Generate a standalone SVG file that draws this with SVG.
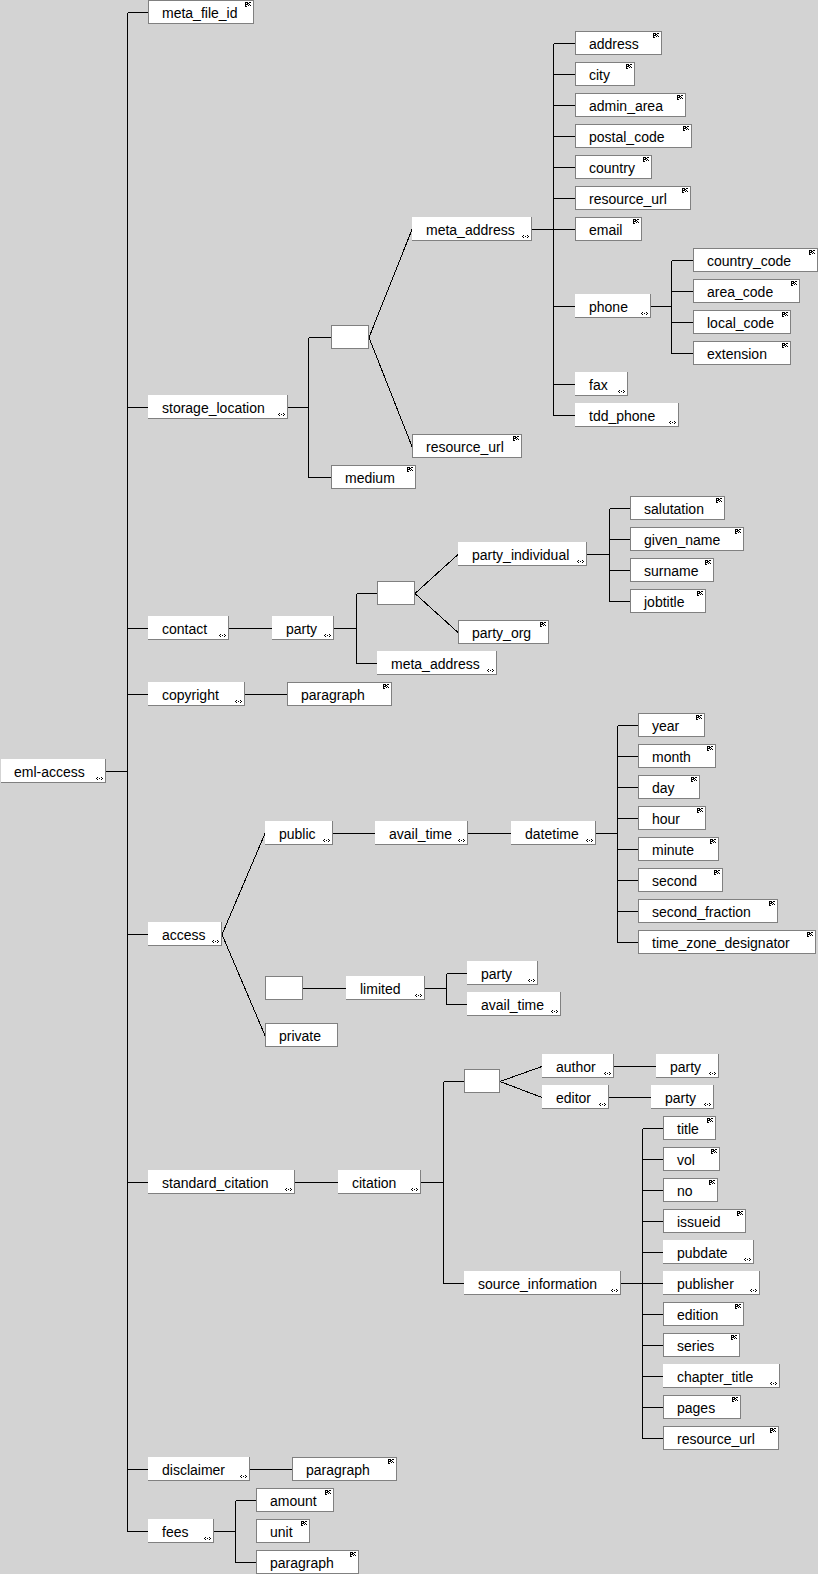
<svg xmlns="http://www.w3.org/2000/svg" xmlns:xlink="http://www.w3.org/1999/xlink" width="818" height="1574" viewBox="0 0 818 1574">
<style>
  .bg { fill: #d3d3d3; }
  .leaf rect, .box { fill: #ffffff; stroke: #808080; stroke-width: 1; shape-rendering: crispEdges; }
  .cx rect { fill: #ffffff; stroke: none; shape-rendering: crispEdges; }
  .cx path { fill: none; stroke: #808080; stroke-width: 1; shape-rendering: crispEdges; }
  text { font-family: "Liberation Sans", Arial, sans-serif; font-size: 14px; fill: #000000; }
  .ln path { fill: none; stroke: #000000; stroke-width: 1; shape-rendering: crispEdges; }
</style>
<defs>
  <!-- simple-content marker (top right of leaf boxes) -->
  <path id="dots" fill="#000" d="M0 0h3v1h-3zM4 0h2v1h-2zM0 1h1v1h-1zM2 1h2v1h-2zM0 2h3v1h-3zM4 2h1v1h-1zM0 3h1v1h-1zM3 3h1v1h-1zM5 3h1v1h-1zM0 4h2v1h-2z"/>
  <!-- complex-content marker (bottom right of expandable boxes) -->
  <path id="chev" fill="#000" d="M1 0h1v1h-1zM5 0h1v1h-1zM0 1h1v1h-1zM3 1h1v1h-1zM6 1h1v1h-1zM1 2h1v1h-1zM5 2h1v1h-1z"/>
</defs>
<rect class="bg" x="0" y="0" width="818" height="1574"/>

<g id="connectors" class="ln">
  <!-- root trunk -->
  <path d="M127.5 12.5V1531.5M106 771.5H127.5"/>
  <path d="M127.5 12.5H148M127.5 407.5H148M127.5 628.5H148M127.5 694.5H148M127.5 934.5H148M127.5 1182.5H148M127.5 1469.5H148M127.5 1531.5H148"/>
  <!-- storage_location -->
  <path d="M288 407.5H308.5M308.5 337.5V477.5M308.5 337.5H331M308.5 477.5H331"/>
  <path d="M369 337.5L412 229.5M369 337.5L412 446.5"/>
  <!-- meta_address -->
  <path d="M532 229.5H553.5M553.5 43.5V415.5M553.5 43.5H575M553.5 74.5H575M553.5 105.5H575M553.5 136.5H575M553.5 167.5H575M553.5 198.5H575M553.5 229.5H575M553.5 306.5H575M553.5 384.5H575M553.5 415.5H575"/>
  <!-- phone -->
  <path d="M651 306.5H671.5M671.5 260.5V353.5M671.5 260.5H693M671.5 291.5H693M671.5 322.5H693M671.5 353.5H693"/>
  <!-- contact / party -->
  <path d="M229 628.5H272M334 628.5H356.5M356.5 593.5V663.5M356.5 593.5H377M356.5 663.5H377"/>
  <path d="M415 593.5L458 554.5M415 593.5L458 632.5"/>
  <path d="M587 554.5H609.5M609.5 508.5V601.5M609.5 508.5H630M609.5 539.5H630M609.5 570.5H630M609.5 601.5H630"/>
  <!-- copyright -->
  <path d="M245 694.5H287"/>
  <!-- access -->
  <path d="M222 934.5L265 833.5M222 934.5L265 1035.5"/>
  <path d="M333 833.5H375M468 833.5H511M596 833.5H617.5M617.5 725.5V942.5"/>
  <path d="M617.5 725.5H638M617.5 756.5H638M617.5 787.5H638M617.5 818.5H638M617.5 849.5H638M617.5 880.5H638M617.5 911.5H638M617.5 942.5H638"/>
  <path d="M303 988.5H346M425 988.5H446.5M446.5 973.5V1004.5M446.5 973.5H467M446.5 1004.5H467"/>
  <!-- standard_citation -->
  <path d="M295 1182.5H338M421 1182.5H443.5M443.5 1081.5V1283.5M443.5 1081.5H464M443.5 1283.5H464"/>
  <path d="M500 1081.5L542 1066.5M500 1081.5L542 1097.5M614 1066.5H656M609 1097.5H651"/>
  <path d="M621 1283.5H642.5M642.5 1128.5V1438.5"/>
  <path d="M642.5 1128.5H663M642.5 1159.5H663M642.5 1190.5H663M642.5 1221.5H663M642.5 1252.5H663M642.5 1283.5H663M642.5 1314.5H663M642.5 1345.5H663M642.5 1376.5H663M642.5 1407.5H663M642.5 1438.5H663"/>
  <!-- disclaimer / fees -->
  <path d="M250 1469.5H292"/>
  <path d="M214 1531.5H235.5M235.5 1500.5V1562.5M235.5 1500.5H256M235.5 1562.5H256"/>
</g>

<!-- root -->
<g id="eml-access" class="cx"><rect x="1" y="759" width="104" height="23"/><path d="M105.5 759V783M1 782.5H106"/><text x="14" y="777">eml-access</text><use xlink:href="#chev" x="96" y="777"/></g>

<!-- meta_file_id -->
<g id="meta_file_id" class="leaf"><rect x="148.5" y="0.5" width="105" height="23"/><text x="162" y="18">meta_file_id</text><use xlink:href="#dots" x="245" y="2"/></g>

<!-- storage_location branch -->
<g id="storage_location" class="cx"><rect x="148" y="395" width="139" height="23"/><path d="M287.5 395V419M148 418.5H288"/><text x="162" y="413">storage_location</text><use xlink:href="#chev" x="278" y="413"/></g>
<g id="storage_choice"><rect class="box" x="331.5" y="325.5" width="37" height="23"/></g>
<g id="meta_address" class="cx"><rect x="412" y="217" width="119" height="23"/><path d="M531.5 217V241M412 240.5H532"/><text x="426" y="235">meta_address</text><use xlink:href="#chev" x="522" y="235"/></g>
<g id="storage_resource_url" class="leaf"><rect x="412.5" y="434.5" width="109" height="23"/><text x="426" y="452">resource_url</text><use xlink:href="#dots" x="513" y="436"/></g>
<g id="medium" class="leaf"><rect x="331.5" y="465.5" width="84" height="23"/><text x="345" y="483">medium</text><use xlink:href="#dots" x="407" y="467"/></g>

<g id="address" class="leaf"><rect x="575.5" y="31.5" width="86" height="23"/><text x="589" y="49">address</text><use xlink:href="#dots" x="653" y="33"/></g>
<g id="city" class="leaf"><rect x="575.5" y="62.5" width="59" height="23"/><text x="589" y="80">city</text><use xlink:href="#dots" x="626" y="64"/></g>
<g id="admin_area" class="leaf"><rect x="575.5" y="93.5" width="110" height="23"/><text x="589" y="111">admin_area</text><use xlink:href="#dots" x="677" y="95"/></g>
<g id="postal_code" class="leaf"><rect x="575.5" y="124.5" width="116" height="23"/><text x="589" y="142">postal_code</text><use xlink:href="#dots" x="683" y="126"/></g>
<g id="country" class="leaf"><rect x="575.5" y="155.5" width="76" height="23"/><text x="589" y="173">country</text><use xlink:href="#dots" x="643" y="157"/></g>
<g id="address_resource_url" class="leaf"><rect x="575.5" y="186.5" width="115" height="23"/><text x="589" y="204">resource_url</text><use xlink:href="#dots" x="682" y="188"/></g>
<g id="email" class="leaf"><rect x="575.5" y="217.5" width="66" height="23"/><text x="589" y="235">email</text><use xlink:href="#dots" x="633" y="219"/></g>
<g id="phone" class="cx"><rect x="575" y="294" width="75" height="23"/><path d="M650.5 294V318M575 317.5H651"/><text x="589" y="312">phone</text><use xlink:href="#chev" x="641" y="312"/></g>
<g id="country_code" class="leaf"><rect x="693.5" y="248.5" width="124" height="23"/><text x="707" y="266">country_code</text><use xlink:href="#dots" x="809" y="250"/></g>
<g id="area_code" class="leaf"><rect x="693.5" y="279.5" width="106" height="23"/><text x="707" y="297">area_code</text><use xlink:href="#dots" x="791" y="281"/></g>
<g id="local_code" class="leaf"><rect x="693.5" y="310.5" width="97" height="23"/><text x="707" y="328">local_code</text><use xlink:href="#dots" x="782" y="312"/></g>
<g id="extension" class="leaf"><rect x="693.5" y="341.5" width="97" height="23"/><text x="707" y="359">extension</text><use xlink:href="#dots" x="782" y="343"/></g>
<g id="fax" class="cx"><rect x="575" y="372" width="52" height="23"/><path d="M627.5 372V396M575 395.5H628"/><text x="589" y="390">fax</text><use xlink:href="#chev" x="618" y="390"/></g>
<g id="tdd_phone" class="cx"><rect x="575" y="403" width="103" height="23"/><path d="M678.5 403V427M575 426.5H679"/><text x="589" y="421">tdd_phone</text><use xlink:href="#chev" x="669" y="421"/></g>

<!-- contact branch -->
<g id="contact" class="cx"><rect x="148" y="616" width="80" height="23"/><path d="M228.5 616V640M148 639.5H229"/><text x="162" y="634">contact</text><use xlink:href="#chev" x="219" y="634"/></g>
<g id="contact_party" class="cx"><rect x="272" y="616" width="61" height="23"/><path d="M333.5 616V640M272 639.5H334"/><text x="286" y="634">party</text><use xlink:href="#chev" x="324" y="634"/></g>
<g id="party_choice"><rect class="box" x="377.5" y="581.5" width="37" height="23"/></g>
<g id="party_individual" class="cx"><rect x="458" y="542" width="128" height="23"/><path d="M586.5 542V566M458 565.5H587"/><text x="472" y="560">party_individual</text><use xlink:href="#chev" x="577" y="560"/></g>
<g id="party_org" class="leaf"><rect x="458.5" y="620.5" width="90" height="23"/><text x="472" y="638">party_org</text><use xlink:href="#dots" x="540" y="622"/></g>
<g id="salutation" class="leaf"><rect x="630.5" y="496.5" width="94" height="23"/><text x="644" y="514">salutation</text><use xlink:href="#dots" x="716" y="498"/></g>
<g id="given_name" class="leaf"><rect x="630.5" y="527.5" width="113" height="23"/><text x="644" y="545">given_name</text><use xlink:href="#dots" x="735" y="529"/></g>
<g id="surname" class="leaf"><rect x="630.5" y="558.5" width="83" height="23"/><text x="644" y="576">surname</text><use xlink:href="#dots" x="705" y="560"/></g>
<g id="jobtitle" class="leaf"><rect x="630.5" y="589.5" width="75" height="23"/><text x="644" y="607">jobtitle</text><use xlink:href="#dots" x="697" y="591"/></g>
<g id="party_meta_address" class="cx"><rect x="377" y="651" width="119" height="23"/><path d="M496.5 651V675M377 674.5H497"/><text x="391" y="669">meta_address</text><use xlink:href="#chev" x="487" y="669"/></g>

<!-- copyright -->
<g id="copyright" class="cx"><rect x="148" y="682" width="96" height="23"/><path d="M244.5 682V706M148 705.5H245"/><text x="162" y="700">copyright</text><use xlink:href="#chev" x="235" y="700"/></g>
<g id="copyright_paragraph" class="leaf"><rect x="287.5" y="682.5" width="104" height="23"/><text x="301" y="700">paragraph</text><use xlink:href="#dots" x="383" y="684"/></g>

<!-- access branch -->
<g id="access" class="cx"><rect x="148" y="922" width="73" height="23"/><path d="M221.5 922V946M148 945.5H222"/><text x="162" y="940">access</text><use xlink:href="#chev" x="212" y="940"/></g>
<g id="public" class="cx"><rect x="265" y="821" width="67" height="23"/><path d="M332.5 821V845M265 844.5H333"/><text x="279" y="839">public</text><use xlink:href="#chev" x="323" y="839"/></g>
<g id="public_avail_time" class="cx"><rect x="375" y="821" width="92" height="23"/><path d="M467.5 821V845M375 844.5H468"/><text x="389" y="839">avail_time</text><use xlink:href="#chev" x="458" y="839"/></g>
<g id="datetime" class="cx"><rect x="511" y="821" width="84" height="23"/><path d="M595.5 821V845M511 844.5H596"/><text x="525" y="839">datetime</text><use xlink:href="#chev" x="586" y="839"/></g>
<g id="year" class="leaf"><rect x="638.5" y="713.5" width="66" height="23"/><text x="652" y="731">year</text><use xlink:href="#dots" x="696" y="715"/></g>
<g id="month" class="leaf"><rect x="638.5" y="744.5" width="77" height="23"/><text x="652" y="762">month</text><use xlink:href="#dots" x="707" y="746"/></g>
<g id="day" class="leaf"><rect x="638.5" y="775.5" width="61" height="23"/><text x="652" y="793">day</text><use xlink:href="#dots" x="691" y="777"/></g>
<g id="hour" class="leaf"><rect x="638.5" y="806.5" width="67" height="23"/><text x="652" y="824">hour</text><use xlink:href="#dots" x="697" y="808"/></g>
<g id="minute" class="leaf"><rect x="638.5" y="837.5" width="80" height="23"/><text x="652" y="855">minute</text><use xlink:href="#dots" x="710" y="839"/></g>
<g id="second" class="leaf"><rect x="638.5" y="868.5" width="84" height="23"/><text x="652" y="886">second</text><use xlink:href="#dots" x="714" y="870"/></g>
<g id="second_fraction" class="leaf"><rect x="638.5" y="899.5" width="139" height="23"/><text x="652" y="917">second_fraction</text><use xlink:href="#dots" x="769" y="901"/></g>
<g id="time_zone_designator" class="leaf"><rect x="638.5" y="930.5" width="177" height="23"/><text x="652" y="948">time_zone_designator</text><use xlink:href="#dots" x="807" y="932"/></g>
<g id="access_choice"><rect class="box" x="265.5" y="976.5" width="37" height="23"/></g>
<g id="limited" class="cx"><rect x="346" y="976" width="78" height="23"/><path d="M424.5 976V1000M346 999.5H425"/><text x="360" y="994">limited</text><use xlink:href="#chev" x="415" y="994"/></g>
<g id="limited_party" class="cx"><rect x="467" y="961" width="70" height="23"/><path d="M537.5 961V985M467 984.5H538"/><text x="481" y="979">party</text><use xlink:href="#chev" x="528" y="979"/></g>
<g id="limited_avail_time" class="cx"><rect x="467" y="992" width="93" height="23"/><path d="M560.5 992V1016M467 1015.5H561"/><text x="481" y="1010">avail_time</text><use xlink:href="#chev" x="551" y="1010"/></g>
<g id="private"><rect class="box" x="265.5" y="1023.5" width="72" height="23"/><text x="279" y="1041">private</text></g>

<!-- standard_citation branch -->
<g id="standard_citation" class="cx"><rect x="148" y="1170" width="146" height="23"/><path d="M294.5 1170V1194M148 1193.5H295"/><text x="162" y="1188">standard_citation</text><use xlink:href="#chev" x="285" y="1188"/></g>
<g id="citation" class="cx"><rect x="338" y="1170" width="82" height="23"/><path d="M420.5 1170V1194M338 1193.5H421"/><text x="352" y="1188">citation</text><use xlink:href="#chev" x="411" y="1188"/></g>
<g id="citation_choice"><rect class="box" x="464.5" y="1069.5" width="35" height="23"/></g>
<g id="author" class="cx"><rect x="542" y="1054" width="71" height="23"/><path d="M613.5 1054V1078M542 1077.5H614"/><text x="556" y="1072">author</text><use xlink:href="#chev" x="604" y="1072"/></g>
<g id="author_party" class="cx"><rect x="656" y="1054" width="62" height="23"/><path d="M718.5 1054V1078M656 1077.5H719"/><text x="670" y="1072">party</text><use xlink:href="#chev" x="709" y="1072"/></g>
<g id="editor" class="cx"><rect x="542" y="1085" width="66" height="23"/><path d="M608.5 1085V1109M542 1108.5H609"/><text x="556" y="1103">editor</text><use xlink:href="#chev" x="599" y="1103"/></g>
<g id="editor_party" class="cx"><rect x="651" y="1085" width="62" height="23"/><path d="M713.5 1085V1109M651 1108.5H714"/><text x="665" y="1103">party</text><use xlink:href="#chev" x="704" y="1103"/></g>
<g id="source_information" class="cx"><rect x="464" y="1271" width="156" height="23"/><path d="M620.5 1271V1295M464 1294.5H621"/><text x="478" y="1289">source_information</text><use xlink:href="#chev" x="611" y="1289"/></g>
<g id="title" class="leaf"><rect x="663.5" y="1116.5" width="52" height="23"/><text x="677" y="1134">title</text><use xlink:href="#dots" x="707" y="1118"/></g>
<g id="vol" class="leaf"><rect x="663.5" y="1147.5" width="56" height="23"/><text x="677" y="1165">vol</text><use xlink:href="#dots" x="711" y="1149"/></g>
<g id="no" class="leaf"><rect x="663.5" y="1178.5" width="54" height="23"/><text x="677" y="1196">no</text><use xlink:href="#dots" x="709" y="1180"/></g>
<g id="issueid" class="leaf"><rect x="663.5" y="1209.5" width="82" height="23"/><text x="677" y="1227">issueid</text><use xlink:href="#dots" x="737" y="1211"/></g>
<g id="pubdate" class="cx"><rect x="663" y="1240" width="90" height="23"/><path d="M753.5 1240V1264M663 1263.5H754"/><text x="677" y="1258">pubdate</text><use xlink:href="#chev" x="744" y="1258"/></g>
<g id="publisher" class="cx"><rect x="663" y="1271" width="96" height="23"/><path d="M759.5 1271V1295M663 1294.5H760"/><text x="677" y="1289">publisher</text><use xlink:href="#chev" x="750" y="1289"/></g>
<g id="edition" class="leaf"><rect x="663.5" y="1302.5" width="80" height="23"/><text x="677" y="1320">edition</text><use xlink:href="#dots" x="735" y="1304"/></g>
<g id="series" class="leaf"><rect x="663.5" y="1333.5" width="76" height="23"/><text x="677" y="1351">series</text><use xlink:href="#dots" x="731" y="1335"/></g>
<g id="chapter_title" class="cx"><rect x="663" y="1364" width="116" height="23"/><path d="M779.5 1364V1388M663 1387.5H780"/><text x="677" y="1382">chapter_title</text><use xlink:href="#chev" x="770" y="1382"/></g>
<g id="pages" class="leaf"><rect x="663.5" y="1395.5" width="77" height="23"/><text x="677" y="1413">pages</text><use xlink:href="#dots" x="732" y="1397"/></g>
<g id="source_resource_url" class="leaf"><rect x="663.5" y="1426.5" width="115" height="23"/><text x="677" y="1444">resource_url</text><use xlink:href="#dots" x="770" y="1428"/></g>

<!-- disclaimer -->
<g id="disclaimer" class="cx"><rect x="148" y="1457" width="101" height="23"/><path d="M249.5 1457V1481M148 1480.5H250"/><text x="162" y="1475">disclaimer</text><use xlink:href="#chev" x="240" y="1475"/></g>
<g id="disclaimer_paragraph" class="leaf"><rect x="292.5" y="1457.5" width="104" height="23"/><text x="306" y="1475">paragraph</text><use xlink:href="#dots" x="388" y="1459"/></g>

<!-- fees -->
<g id="fees" class="cx"><rect x="148" y="1519" width="65" height="23"/><path d="M213.5 1519V1543M148 1542.5H214"/><text x="162" y="1537">fees</text><use xlink:href="#chev" x="204" y="1537"/></g>
<g id="amount" class="leaf"><rect x="256.5" y="1488.5" width="77" height="23"/><text x="270" y="1506">amount</text><use xlink:href="#dots" x="325" y="1490"/></g>
<g id="unit" class="leaf"><rect x="256.5" y="1519.5" width="53" height="23"/><text x="270" y="1537">unit</text><use xlink:href="#dots" x="301" y="1521"/></g>
<g id="fees_paragraph" class="leaf"><rect x="256.5" y="1550.5" width="102" height="23"/><text x="270" y="1568">paragraph</text><use xlink:href="#dots" x="350" y="1552"/></g>
</svg>
